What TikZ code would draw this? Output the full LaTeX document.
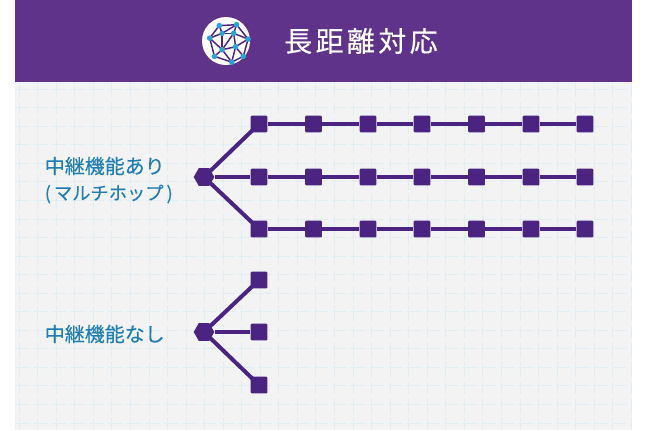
\documentclass[tikz,border=0pt]{standalone}
\usepackage{fontspec}
\usetikzlibrary{shapes.geometric}
\newfontfamily\jpfont{Noto Sans CJK JP}
\definecolor{band}{HTML}{5F3389}
\definecolor{deep}{HTML}{4B2380}
\definecolor{paper}{HTML}{F3F3F4}
\definecolor{gridc}{HTML}{E0EEF3}
\definecolor{labelc}{HTML}{1F7DB4}
\definecolor{dotc}{HTML}{2AA3D6}
\tikzset{
  x=0.75pt,y=-0.75pt,
  sq/.style={draw=none,fill=deep,minimum size=12.4pt,inner sep=0pt,rounded corners=0.6pt},
  hexa/.style={regular polygon,regular polygon sides=6,shape border rotate=0,draw=none,fill=deep,minimum size=15.5pt,inner sep=0pt},
  link/.style={draw=deep,line width=3pt},
  lab/.style={font=\jpfont\addfontfeature{FakeBold=0.15}\fontsize{15pt}{18pt}\selectfont,text=labelc,anchor=west,inner sep=0pt},
  labsm/.style={font=\jpfont\addfontfeature{FakeBold=0.15}\fontsize{13.7pt}{16pt}\selectfont,text=labelc,anchor=west,inner sep=0pt},
  ttl/.style={font=\jpfont\addfontfeature{FakeBold=0.3}\fontsize{21pt}{24pt}\selectfont,text=white,inner sep=0pt},
  netl/.style={draw=deep,line width=1.1pt},
  netd/.style={circle,fill=dotc,minimum size=4.2pt,inner sep=0pt},
  gridl/.style={draw=gridc,line width=0.5pt,dash pattern=on 11pt off 3pt}
}
\begin{document}
\begin{tikzpicture}
\useasboundingbox (0,0) rectangle (648,430);
\fill[white] (0,0) rectangle (648,430);
\fill[paper] (15,0) rectangle (632,430);
\foreach \i in {0,...,33} {\draw[gridl] ({19+\i*18.55},82) -- ({19+\i*18.55},430);}
\foreach \i in {0,...,18} {\draw[gridl] (15,{89+\i*18.55}) -- (632,{89+\i*18.55});}
\fill[band] (15,0) rectangle (632,82);
% header
\node[circle,fill=white,minimum size=36pt,inner sep=0pt] (logo) at (226,41) {};
\foreach \n/\x/\y in {a/219/25,b/237/24,d/209/38,e/222/33,f/234/33,g/249/39,h/222/50,i/236/47,j/214/57,k/244/57,l/232/63}{
  \coordinate (\n) at ({226+(\x-226)*0.96},{41+(\y-41)*0.96});
}
\foreach \p/\q in {a/b,a/e,b/e,b/f,a/d,d/e,e/f,f/g,b/g,d/h,d/j,e/h,f/h,f/i,g/i,g/k,h/i,h/j,h/l,i/l,i/k,j/l,k/l}{\draw[netl] (\p) -- (\q);}
\foreach \n in {a,b,d,e,f,g,h,i,j,k,l}{\node[netd] (dot\n) at (\n) {};}
\node[ttl] (title) at (361,41) {\addfontfeature{LetterSpace=12}長距離対応};
% upper tree
\node[hexa] (hub1) at (204,177) {};
\foreach \r/\y in {A/124,B/177,C/229}{
  \foreach \c/\x in {1/259,2/313.5,3/368,4/422,5/476.5,6/531,7/585}{
    \node[sq] (\r\c) at (\x,\y) {};
  }
  \foreach \c/\d in {1/2,2/3,3/4,4/5,5/6,6/7}{\draw[link] (\r\c) -- (\r\d);}
}
\draw[link] (hub1.center) -- (A1.center);
\draw[link] (hub1) -- (B1);
\draw[link] (hub1.center) -- (C1.center);
\node[lab] (l1) at (44.5,166) {中継機能あり};
\node[labsm] (l2) at (44.5,194) {(\,マルチホップ\,)};
% lower tree
\node[hexa] (hub2) at (204,332) {};
\node[sq] (D1) at (259,280) {};
\node[sq] (E1) at (259,332) {};
\node[sq] (F1) at (259,385) {};
\draw[link] (hub2.center) -- (D1.center);
\draw[link] (hub2) -- (E1);
\draw[link] (hub2.center) -- (F1.center);
\node[lab] (l3) at (44.5,334) {中継機能なし};
\end{tikzpicture}
\end{document}
